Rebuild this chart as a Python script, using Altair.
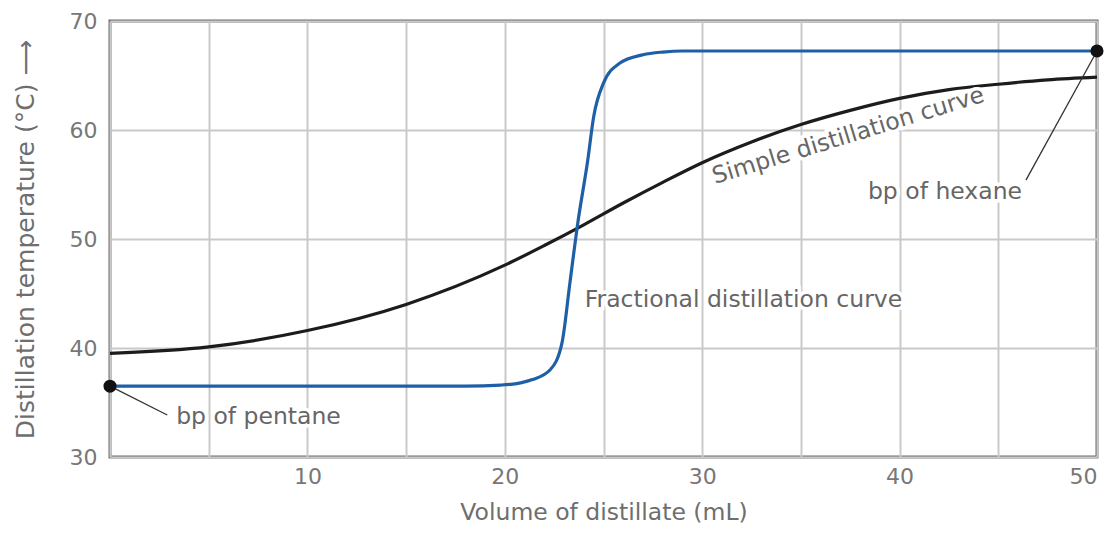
import altair as alt
import pandas as pd

# Fractional distillation curve (blue)
frac_x = [0, 18, 19.8, 20.8, 21.4, 22.3, 22.9, 23.3, 23.7, 24.2, 24.5, 25.0, 25.8, 27.0, 28.0, 29.0, 50]
frac_y = [36.5, 36.5, 36.6, 36.8, 37.1, 38.0, 40.5, 46.0, 51.5, 57.2, 61.2, 64.3, 66.1, 66.9, 67.15, 67.25, 67.25]

# Simple distillation curve (black)
simple_x = [0, 5, 10, 15, 20, 22, 24, 26, 28, 30, 32.5, 35, 37.5, 40, 42.5, 45, 47.5, 50]
simple_y = [39.5, 40.1, 41.6, 44.0, 47.6, 49.4, 51.3, 53.3, 55.2, 57.0, 58.9, 60.5, 61.8, 62.9, 63.7, 64.2, 64.6, 64.85]

# Boiling point markers
bp_x = [0, 50]
bp_y = [36.5, 67.25]

# Leader lines (from marker to label)
lead_x = [0, 50]
lead_y = [36.5, 67.25]
lead_x2 = [2.9, 46.4]
lead_y2 = [33.85, 55.4]

# Annotation labels
left_text = ["bp of pentane", "Fractional distillation curve"]
left_x = [3.35, 24.05]
left_y = [33.65, 44.4]

right_text = ["bp of hexane"]
right_x = [46.2]
right_y = [54.35]

rot_text = ["Simple distillation curve"]
rot_x = [37.4]
rot_y = [59.45]

FONT = "DejaVu Sans"
TEXT_GRAY = "#666666"
FS = 23.5

frac_df = pd.DataFrame({"x": frac_x, "y": frac_y})
simple_df = pd.DataFrame({"x": simple_x, "y": simple_y})
bp_df = pd.DataFrame({"x": bp_x, "y": bp_y})
lead_df = pd.DataFrame({"x": lead_x, "y": lead_y, "x2": lead_x2, "y2": lead_y2})
left_df = pd.DataFrame({"t": left_text, "x": left_x, "y": left_y})
right_df = pd.DataFrame({"t": right_text, "x": right_x, "y": right_y})
rot_df = pd.DataFrame({"t": rot_text, "x": rot_x, "y": rot_y})

xscale = alt.Scale(domain=[0, 50], nice=False, zero=False)
yscale = alt.Scale(domain=[30, 70], nice=False, zero=False)

x_enc = alt.X(
    "x:Q",
    scale=xscale,
    axis=alt.Axis(
        values=list(range(0, 51, 5)),
        labelExpr="datum.value % 10 == 0 && datum.value > 0 ? datum.label : ''",
        title="Volume of distillate (mL)",
        titleFontSize=23.5,
        ticks=False,
        domain=False,
        labelPadding=9,
        titlePadding=13,
    ),
)
y_enc = alt.Y(
    "y:Q",
    scale=yscale,
    axis=alt.Axis(
        values=[30, 40, 50, 60, 70],
        title="Distillation temperature (°C) ⟶",
        titleFontSize=25,
        ticks=False,
        domain=False,
        labelPadding=13,
        titlePadding=31,
    ),
)

simple_line = alt.Chart(simple_df).mark_line(
    color="#1c1c1c", strokeWidth=3.2, interpolate="monotone"
).encode(x=x_enc, y=y_enc)

frac_line = alt.Chart(frac_df).mark_line(
    color="#1f5fa6", strokeWidth=3.2, interpolate="monotone"
).encode(x="x:Q", y="y:Q")

leaders = alt.Chart(lead_df).mark_rule(color="#333333", strokeWidth=1.3).encode(
    x="x:Q", y="y:Q", x2="x2:Q", y2="y2:Q"
)

points = alt.Chart(bp_df).mark_circle(color="#111111", size=170, opacity=1).encode(
    x="x:Q", y="y:Q"
)


def text_layers(df, align, angle=None):
    kw = dict(font=FONT, fontSize=FS, baseline="middle", align=align)
    if angle is not None:
        kw["angle"] = angle
    halo = alt.Chart(df).mark_text(
        color="white", stroke="white", strokeWidth=7, **kw
    ).encode(x="x:Q", y="y:Q", text="t:N")
    txt = alt.Chart(df).mark_text(color=TEXT_GRAY, **kw).encode(
        x="x:Q", y="y:Q", text="t:N"
    )
    return [halo, txt]


layers = [simple_line, frac_line, leaders, points]
layers += text_layers(left_df, "left")
layers += text_layers(right_df, "right")
layers += text_layers(rot_df, "center", 343)

chart = (
    alt.layer(*layers)
    .properties(
        width=987,
        height=436,
        autosize=alt.AutoSizeParams(type="none"),
        padding={"left": 102, "top": 13, "right": 11, "bottom": 74},
    )
    .configure_view(stroke="#6b6b6b", strokeWidth=3)
    .configure_axis(
        grid=True,
        gridColor="#c9c9c9",
        gridWidth=2,
        labelColor="#777777",
        titleColor="#6e6e6e",
        labelFont=FONT,
        titleFont=FONT,
        labelFontSize=22,
        titleFontWeight="normal",
    )
)

chart.save("out.html", embed_options={"renderer": "svg", "actions": False})
